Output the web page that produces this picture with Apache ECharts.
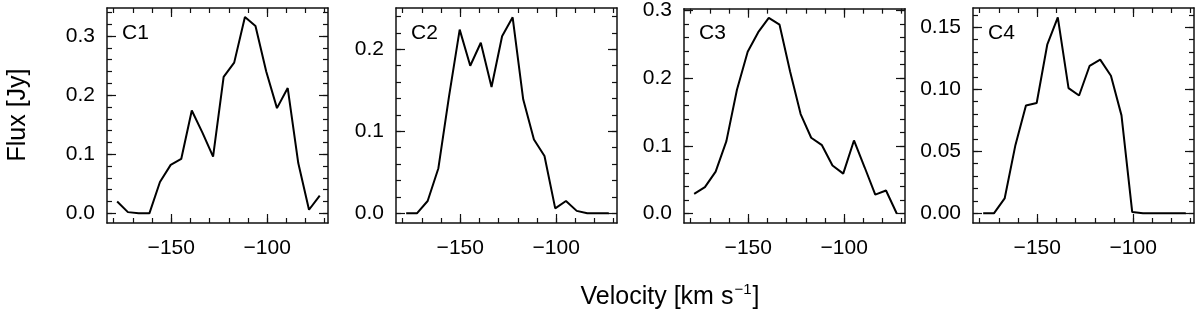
<!DOCTYPE html>
<html><head><meta charset="utf-8">
<script src="https://cdn.jsdelivr.net/npm/echarts@6/dist/echarts.min.js"></script>
<style>html,body{margin:0;padding:0;background:#fff}#c{width:1200px;height:314px}</style>
</head><body><div id="c"></div>
<script>
// ---- data ----
const velocity = [-178.2, -172.6, -167.0, -161.4, -155.9, -150.3, -144.8, -139.3, -133.7, -128.2,
                  -122.7, -117.2, -111.6, -106.1, -100.5, -94.9, -89.3, -83.8, -78.2, -72.6];
const fluxC1 = [0.020, 0.002, 0.000, 0.000, 0.053, 0.082, 0.092, 0.174, 0.136, 0.096,
                0.231, 0.255, 0.332, 0.317, 0.240, 0.178, 0.212, 0.085, 0.006, 0.030];
const fluxC2 = [0.000, 0.000, 0.015, 0.055, 0.142, 0.224, 0.180, 0.208, 0.154, 0.216,
                0.239, 0.139, 0.090, 0.070, 0.006, 0.015, 0.003, 0.000, 0.000, 0.000];
const fluxC3 = [0.029, 0.039, 0.062, 0.107, 0.183, 0.239, 0.268, 0.289, 0.279, 0.210,
                0.147, 0.112, 0.101, 0.071, 0.059, 0.108, 0.068, 0.028, 0.034, 0.000];
const fluxC4 = [0.000, 0.000, 0.012, 0.055, 0.087, 0.089, 0.136, 0.158, 0.101, 0.095,
                0.119, 0.124, 0.111, 0.079, 0.001, 0.000, 0.000, 0.000, 0.000, 0.000];
const panelNames = ['C1', 'C2', 'C3', 'C4'];
const xMajorTicks = [-150, -100];
const xMinorTicks = [-180, -170, -160, -150, -140, -130, -120, -110, -100, -90, -80, -70];
const yMajorTicks = [
  [0, 0.1, 0.2, 0.3],
  [0, 0.1, 0.2],
  [0, 0.1, 0.2, 0.3],
  [0, 0.05, 0.10, 0.15]
];
const yMinorTicks = [
  [0, 0.02, 0.04, 0.06, 0.08, 0.10, 0.12, 0.14, 0.16, 0.18, 0.20, 0.22, 0.24, 0.26, 0.28, 0.30, 0.32, 0.34],
  [0, 0.02, 0.04, 0.06, 0.08, 0.10, 0.12, 0.14, 0.16, 0.18, 0.20, 0.22, 0.24],
  [0, 0.02, 0.04, 0.06, 0.08, 0.10, 0.12, 0.14, 0.16, 0.18, 0.20, 0.22, 0.24, 0.26, 0.28, 0.30],
  [0, 0.01, 0.02, 0.03, 0.04, 0.05, 0.06, 0.07, 0.08, 0.09, 0.10, 0.11, 0.12, 0.13, 0.14, 0.15, 0.16]
];
const yDecimals = [1, 1, 1, 2];
const xLabel = 'Velocity [km s';
const xLabelSup = '−1';
const yLabel = 'Flux [Jy]';

// ---- layout ----
const fluxes = [fluxC1, fluxC2, fluxC3, fluxC4];
const gridLefts = [107, 396, 684, 973];
const gridWidth = 221, gridTop = 8, gridHeight = 215;
const xRange = [-183.5, -68.3];
const yRanges = [[-0.0164, 0.3474], [-0.0118, 0.2504], [-0.014, 0.3027], [-0.0078, 0.1656]];
const FONT = '"Liberation Sans", Arial, Helvetica, sans-serif';
const INK = '#111';
const fmtX = v => (v < 0 ? '−' : '') + Math.abs(v);

function xAx(g, pos, ticks, len, showLine, showLabel) {
  return {
    type: 'value', gridIndex: g, position: pos, min: xRange[0], max: xRange[1],
    axisLine: { show: showLine, onZero: false, lineStyle: { color: INK, width: 1.5 } },
    axisTick: { show: true, inside: true, length: len, customValues: ticks, lineStyle: { color: INK, width: 1.2 } },
    axisLabel: showLabel ? { show: true, customValues: ticks, margin: 15, fontSize: 21, color: '#000', fontFamily: FONT, formatter: fmtX } : { show: false },
    splitLine: { show: false }
  };
}
function yAx(g, pos, ticks, len, showLine, showLabel) {
  return {
    type: 'value', gridIndex: g, position: pos, min: yRanges[g][0], max: yRanges[g][1],
    axisLine: { show: showLine, onZero: false, lineStyle: { color: INK, width: 1.5 } },
    axisTick: { show: true, inside: true, length: len, customValues: ticks, lineStyle: { color: INK, width: 1.2 } },
    axisLabel: showLabel ? { show: true, customValues: ticks, margin: 12, fontSize: 21, color: '#000', fontFamily: FONT, formatter: v => v.toFixed(yDecimals[g]) } : { show: false },
    splitLine: { show: false }
  };
}

const grid = [], xAxis = [], yAxis = [], series = [], graphic = [];
for (let g = 0; g < 4; g++) {
  grid.push({ left: gridLefts[g], top: gridTop, width: gridWidth, height: gridHeight, containLabel: false });
  xAxis.push(xAx(g, 'bottom', xMajorTicks, 9, true, true));
  xAxis.push(xAx(g, 'bottom', xMinorTicks, 5, false, false));
  xAxis.push(xAx(g, 'top', xMajorTicks, 9, true, false));
  xAxis.push(xAx(g, 'top', xMinorTicks, 5, false, false));
  yAxis.push(yAx(g, 'left', yMajorTicks[g], 9, true, true));
  yAxis.push(yAx(g, 'left', yMinorTicks[g], 5, false, false));
  yAxis.push(yAx(g, 'right', yMajorTicks[g], 9, true, false));
  yAxis.push(yAx(g, 'right', yMinorTicks[g], 5, false, false));
  series.push({
    type: 'line', xAxisIndex: 4 * g, yAxisIndex: 4 * g,
    data: velocity.map((v, i) => [v, fluxes[g][i]]),
    symbol: 'none', showSymbol: false, silent: true,
    lineStyle: { color: '#000', width: 2 }
  });
  graphic.push({
    type: 'text', left: gridLefts[g] + 15, top: 23,
    style: { text: panelNames[g], font: '21px ' + FONT, fill: '#000' }
  });
}
graphic.push({
  type: 'text', x: 18, y: 115, rotation: Math.PI / 2,
  style: { text: yLabel, font: '25px ' + FONT, fill: '#000', textAlign: 'center', textVerticalAlign: 'middle' }
});
graphic.push({
  type: 'text', x: 670, y: 297,
  style: {
    text: '{b|' + xLabel + '}{s|' + xLabelSup + '}{b|]}',
    textAlign: 'center', textVerticalAlign: 'middle',
    rich: {
      b: { fontSize: 25, fontFamily: FONT, fill: '#000', color: '#000', lineHeight: 30 },
      s: { fontSize: 15, fontFamily: FONT, fill: '#000', color: '#000', verticalAlign: 'top', lineHeight: 30, padding: [0, 1, 0, 1] }
    }
  }
});

const chart = echarts.init(document.getElementById('c'), null, { renderer: 'canvas' });
chart.setOption({ animation: false, backgroundColor: '#fff', grid, xAxis, yAxis, series, graphic });
</script></body></html>
